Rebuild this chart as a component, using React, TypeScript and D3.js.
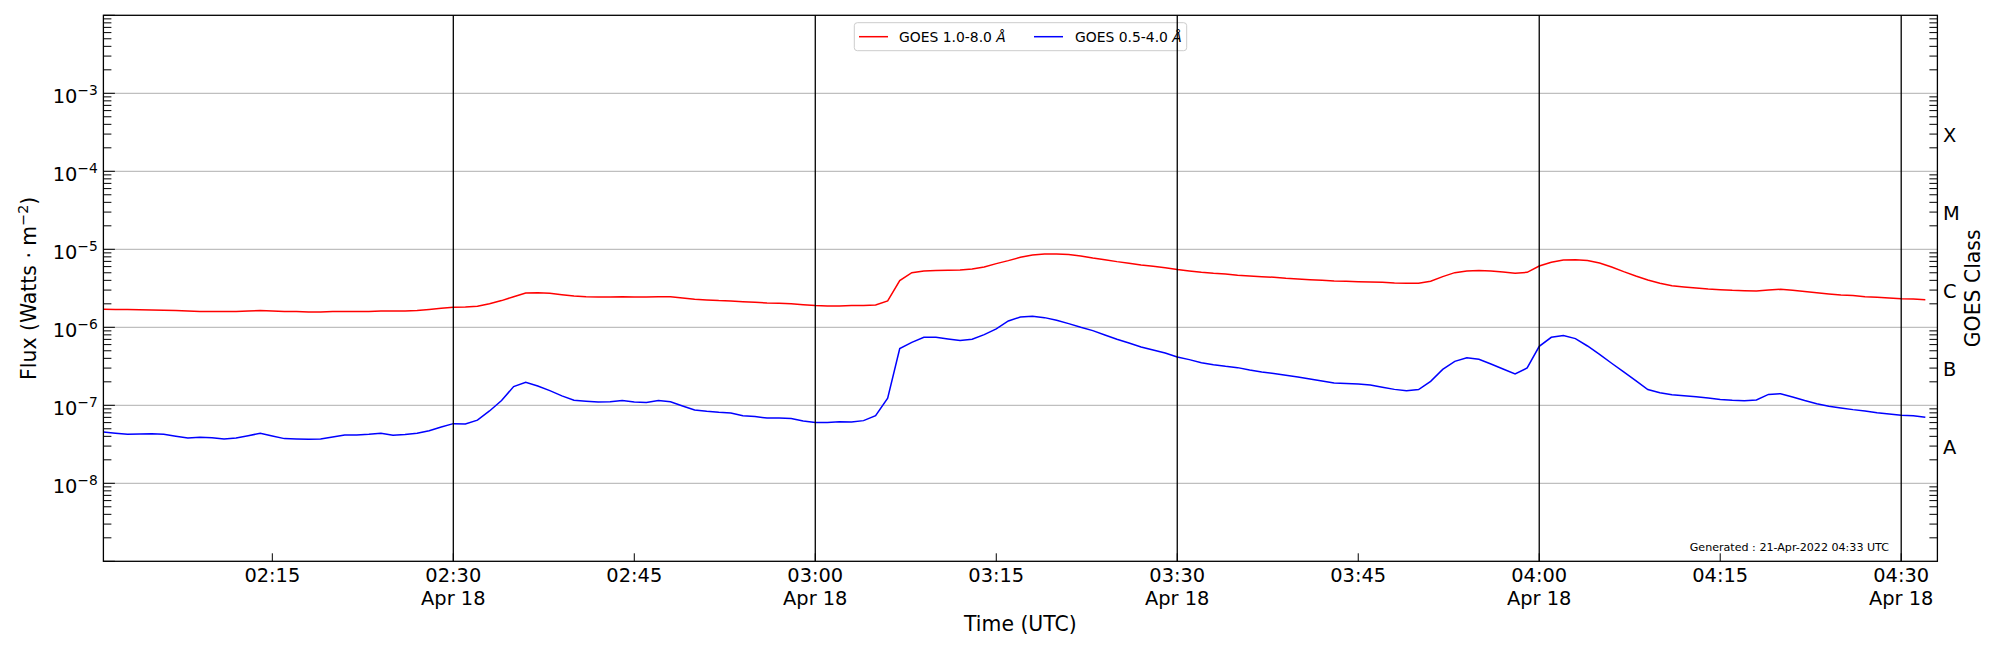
import React from "react";
import * as d3 from "d3";

// ---- data (GOES XRS, 1-minute averages, 2022-04-18) ----
const START = "2022-04-18T02:01:00Z";
const STOP = "2022-04-18T04:33:00Z";
const LONG_UNIT = 1e-6; // W m^-2
const SHORT_UNIT = 1e-8; // W m^-2

// GOES 1.0-8.0 Å (x 1e-6 W/m^2), one value per minute from 02:01
const xrsLong = [
  1.70, 1.69, 1.69, 1.68, 1.67, 1.65, 1.64, 1.62, 1.60, 1.60,
  1.60, 1.60, 1.62, 1.64, 1.62, 1.60, 1.59, 1.57, 1.57, 1.59,
  1.60, 1.60, 1.60, 1.62, 1.62, 1.62, 1.64, 1.69, 1.75, 1.81,
  1.82, 1.86, 2.01, 2.20, 2.47, 2.76, 2.78, 2.73, 2.62, 2.52,
  2.47, 2.45, 2.45, 2.47, 2.45, 2.45, 2.47, 2.47, 2.38, 2.29,
  2.24, 2.20, 2.18, 2.13, 2.09, 2.05, 2.03, 2.01, 1.95, 1.90,
  1.88, 1.88, 1.90, 1.90, 1.93, 2.18, 3.97, 5.02, 5.28, 5.33,
  5.38, 5.43, 5.60, 5.94, 6.55, 7.16, 7.90, 8.46, 8.72, 8.72,
  8.55, 8.21, 7.74, 7.37, 6.95, 6.61, 6.30, 6.06, 5.82, 5.49,
  5.28, 5.07, 4.92, 4.83, 4.64, 4.55, 4.46, 4.38, 4.25, 4.17,
  4.08, 4.01, 3.93, 3.89, 3.85, 3.81, 3.78, 3.70, 3.67, 3.67,
  3.89, 4.46, 5.02, 5.28, 5.33, 5.28, 5.12, 4.92, 5.07, 6.11,
  6.81, 7.30, 7.37, 7.16, 6.68, 5.94, 5.17, 4.55, 4.05, 3.67,
  3.42, 3.29, 3.19, 3.10, 3.04, 2.98, 2.95, 2.92, 3.01, 3.07,
  2.98, 2.87, 2.78, 2.68, 2.60, 2.55, 2.47, 2.42, 2.38, 2.33,
  2.31, 2.26,
];

// GOES 0.5-4.0 Å (x 1e-8 W/m^2)
const xrsShort = [
  4.55, 4.38, 4.25, 4.29, 4.33, 4.25, 4.01, 3.81, 3.89, 3.85,
  3.70, 3.81, 4.08, 4.38, 4.05, 3.74, 3.70, 3.67, 3.70, 3.93,
  4.17, 4.17, 4.25, 4.38, 4.13, 4.21, 4.38, 4.73, 5.28, 5.82,
  5.76, 6.45, 8.46, 11.5, 17.4, 19.7, 17.7, 15.4, 13.2, 11.6,
  11.3, 11.0, 11.1, 11.5, 11.0, 10.9, 11.5, 11.1, 9.81, 8.72,
  8.38, 8.14, 7.98, 7.37, 7.16, 6.88, 6.88, 6.75, 6.30, 6.00,
  6.00, 6.17, 6.11, 6.36, 7.37, 12.3, 53.3, 64.2, 74.4, 74.4,
  70.9, 67.5, 70.2, 80.5, 95.2, 120.6, 135.7, 138.4, 133.0, 122.9,
  111.4, 100.0, 90.6, 79.7, 70.2, 63.0, 56.0, 51.2, 46.9, 41.7,
  38.5, 35.2, 33.2, 31.6, 30.4, 28.4, 26.8, 25.5, 24.2, 23.1,
  21.8, 20.5, 19.3, 19.1, 18.8, 18.2, 17.0, 16.0, 15.4, 15.9,
  20.3, 28.9, 36.6, 40.8, 38.9, 33.9, 29.2, 25.2, 30.1, 57.1,
  74.4, 78.2, 71.6, 57.6, 45.1, 34.6, 26.8, 20.7, 15.9, 14.5,
  13.7, 13.3, 12.9, 12.4, 11.9, 11.6, 11.4, 11.7, 13.8, 14.1,
  12.8, 11.5, 10.5, 9.71, 9.24, 8.80, 8.46, 8.05, 7.74, 7.44,
  7.37, 7.02,
];

const yLabelExponents = [-3, -4, -5, -6, -7, -8];
const gridExponents = [-3, -4, -5, -6, -7, -8];
const goesClasses = ["A", "B", "C", "M", "X"];
const goesClassCenters = [-7.5, -6.5, -5.5, -4.5, -3.5];
const seriesNames = ["GOES 1.0-8.0 ", "GOES 0.5-4.0 "];
const seriesColors = ["red", "blue"];
const dateLabel = "Apr 18";
const generatedText = "Generated : 21-Apr-2022 04:33 UTC";

// ---- layout ----
const W = 2000;
const H = 650;
const L = 103.4;
const R = 1937.4;
const T = 15.3;
const B = 561.3;
const FONT = "DejaVu Sans, Liberation Sans, sans-serif";
const TICK_FS = 19.4;
const LABEL_FS = 20.4;

export default function App() {
  const t0 = new Date(START);
  const t1 = new Date(STOP);
  const times = d3.utcMinute.range(t0, t1);
  const x = d3.scaleUtc().domain([t0, t1]).range([L, R]);
  const y = d3.scaleLog().domain([1e-9, 1e-2]).range([B, T]);

  const longData = xrsLong.map((v, i) => ({ t: times[i], v: v * LONG_UNIT }));
  const shortData = xrsShort.map((v, i) => ({ t: times[i], v: v * SHORT_UNIT }));
  const line = d3
    .line<{ t: Date; v: number }>()
    .x((d) => x(d.t))
    .y((d) => y(d.v));

  const yTicks = y.ticks();
  const isMajor = (v: number) => {
    const e = Math.log10(v);
    return Math.abs(e - Math.round(e)) < 1e-6;
  };
  const xTicks = x.ticks(d3.utcMinute.every(15) as any);
  const isHalfHour = (d: Date) => d.getUTCMinutes() % 30 === 0;
  const fmt = d3.utcFormat("%H:%M");

  return (
    <svg
      width={W}
      height={H}
      viewBox={`0 0 ${W} ${H}`}
      style={{ position: "absolute", left: 0, top: 0, background: "white" }}
      fontFamily={FONT}
    >
      <rect x={0} y={0} width={W} height={H} fill="white" />
      <defs>
        <clipPath id="plotclip">
          <rect x={L} y={T} width={R - L} height={B - T} />
        </clipPath>
      </defs>

      {/* horizontal grid */}
      {gridExponents.map((e) => (
        <line
          key={"g" + e}
          x1={L}
          x2={R}
          y1={y(Math.pow(10, e))}
          y2={y(Math.pow(10, e))}
          stroke="#b0b0b0"
          strokeWidth={1}
        />
      ))}

      {/* data */}
      <g clipPath="url(#plotclip)">
        <path d={line(longData) || ""} fill="none" stroke={seriesColors[0]} strokeWidth={1.5} />
        <path d={line(shortData) || ""} fill="none" stroke={seriesColors[1]} strokeWidth={1.5} />
      </g>

      {/* legend */}
      <g>
        <rect
          x={854.3}
          y={22.7}
          width={332.4}
          height={28}
          rx={3}
          fill="white"
          fillOpacity={0.8}
          stroke="#cccccc"
          strokeWidth={1}
        />
        <line x1={859} x2={888} y1={36.7} y2={36.7} stroke={seriesColors[0]} strokeWidth={1.5} />
        <text x={899} y={41.6} fontSize={13.9} fill="black">
          {seriesNames[0]}
          <tspan fontStyle="italic">Å</tspan>
        </text>
        <line x1={1034} x2={1063} y1={36.7} y2={36.7} stroke={seriesColors[1]} strokeWidth={1.5} />
        <text x={1075} y={41.6} fontSize={13.9} fill="black">
          {seriesNames[1]}
          <tspan fontStyle="italic">Å</tspan>
        </text>
      </g>

      {/* half-hour vertical lines */}
      {xTicks.filter(isHalfHour).map((d) => (
        <line
          key={"v" + d.getTime()}
          x1={x(d)}
          x2={x(d)}
          y1={T}
          y2={B}
          stroke="black"
          strokeWidth={1.3}
        />
      ))}

      {/* left ticks */}
      {yTicks.map((v, i) => (
        <line
          key={"lt" + i}
          x1={L}
          x2={L + (isMajor(v) ? 11.5 : 8)}
          y1={y(v)}
          y2={y(v)}
          stroke="black"
          strokeWidth={1}
        />
      ))}
      {/* right ticks */}
      {yTicks
        .filter((v) => !isMajor(v))
        .map((v, i) => (
          <line
            key={"rt" + i}
            x1={R}
            x2={R - 8}
            y1={y(v)}
            y2={y(v)}
            stroke="black"
            strokeWidth={1}
          />
        ))}
      {/* bottom ticks */}
      {xTicks.map((d) => (
        <line
          key={"bt" + d.getTime()}
          x1={x(d)}
          x2={x(d)}
          y1={B}
          y2={B - 8}
          stroke="black"
          strokeWidth={1}
        />
      ))}

      {/* frame */}
      <rect x={L} y={T} width={R - L} height={B - T} fill="none" stroke="black" strokeWidth={1.3} />

      {/* y tick labels */}
      {yLabelExponents.map((e) => (
        <text
          key={"yl" + e}
          x={97.7}
          y={y(Math.pow(10, e)) + 9.5}
          fontSize={TICK_FS}
          textAnchor="end"
          fill="black"
        >
          10
          <tspan fontSize={13.8} dy={-7.5}>
            {"\u2212" + Math.abs(e)}
          </tspan>
        </text>
      ))}

      {/* x tick labels */}
      {xTicks.map((d) => (
        <g key={"xl" + d.getTime()}>
          <text x={x(d)} y={581.8} fontSize={TICK_FS} textAnchor="middle" fill="black">
            {fmt(d)}
          </text>
          {isHalfHour(d) && (
            <text x={x(d)} y={605} fontSize={TICK_FS} textAnchor="middle" fill="black">
              {dateLabel}
            </text>
          )}
        </g>
      ))}

      {/* GOES class labels */}
      {goesClasses.map((c, i) => (
        <text
          key={"c" + c}
          x={1943}
          y={y(Math.pow(10, goesClassCenters[i])) + 9.6}
          fontSize={TICK_FS}
          fill="black"
        >
          {c}
        </text>
      ))}

      {/* axis labels */}
      <text x={(L + R) / 2} y={630.7} fontSize={LABEL_FS} textAnchor="middle" fill="black">
        Time (UTC)
      </text>
      <text
        transform={`translate(36,${(T + B) / 2}) rotate(-90)`}
        fontSize={LABEL_FS}
        textAnchor="middle"
        fill="black"
      >
        Flux (Watts · m
        <tspan fontSize={14.3} dy={-8}>
          −2
        </tspan>
        <tspan dy={8}>)</tspan>
      </text>
      <text
        transform={`translate(1980,${(T + B) / 2}) rotate(-90)`}
        fontSize={LABEL_FS}
        textAnchor="middle"
        fill="black"
      >
        GOES Class
      </text>

      {/* generated stamp */}
      <text x={1889} y={550.5} fontSize={11.1} textAnchor="end" fill="black">
        {generatedText}
      </text>
    </svg>
  );
}
